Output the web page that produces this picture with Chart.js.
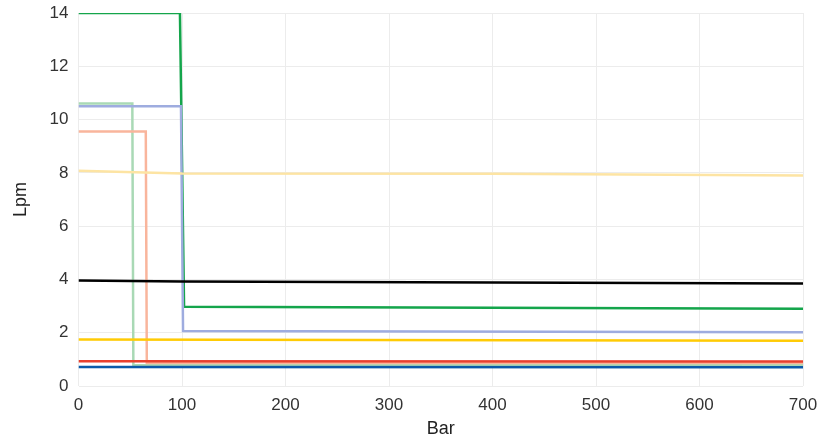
<!DOCTYPE html>
<html>
<head>
<meta charset="utf-8">
<script src="https://cdn.jsdelivr.net/npm/chart.js@4/dist/chart.umd.min.js"></script>
<style>
  html, body { margin: 0; padding: 0; background: #fff; }
  #wrap { width: 817px; height: 438px; }
</style>
</head>
<body>
<div id="wrap"><canvas id="flowChart"></canvas></div>
<script>
// Values (x = Bar, y = Lpm)
const greenX = [0, 98, 102, 700];
const greenY = [14, 14, 2.97, 2.9];
const lavenderX = [0, 99, 101, 700];
const lavenderY = [10.5, 10.5, 2.06, 2.02];
const mintX = [0, 52, 53, 700];
const mintY = [10.6, 10.6, 0.78, 0.78];
const salmonX = [0, 65, 66, 700];
const salmonY = [9.55, 9.55, 0.86, 0.86];
const paleYellowX = [0, 100, 400, 700];
const paleYellowY = [8.08, 7.98, 7.97, 7.9];
const blackX = [0, 100, 700];
const blackY = [3.96, 3.92, 3.85];
const yellowX = [0, 700];
const yellowY = [1.75, 1.7];
const redX = [0, 700];
const redY = [0.93, 0.92];
const blueX = [0, 700];
const blueY = [0.71, 0.7];

const xTicks = [0, 100, 200, 300, 400, 500, 600, 700];
const yTicks = [0, 2, 4, 6, 8, 10, 12, 14];

function pts(xs, ys) {
    return xs.map((x, i) => ({ x: x, y: ys[i] }));
}

function series(label, xs, ys, color) {
    return {
        label: label,
        data: pts(xs, ys),
        borderColor: color,
        backgroundColor: color,
        borderWidth: 2.5,
        pointRadius: 0,
        fill: false,
        tension: 0
    };
}

const ctx = document.getElementById('flowChart').getContext('2d');
const flowChart = new Chart(ctx, {
    type: 'line',
    data: {
        datasets: [
            series('Blue', blueX, blueY, '#0b5aa9'),
            series('Red', redX, redY, '#e8402e'),
            series('Yellow', yellowX, yellowY, '#ffcb05'),
            series('Black', blackX, blackY, '#000000'),
            series('Pale yellow', paleYellowX, paleYellowY, '#fde4a3'),
            series('Salmon', salmonX, salmonY, '#f9b59c'),
            series('Lavender', lavenderX, lavenderY, '#9eacdf'),
            series('Green', greenX, greenY, '#14a54b'),
            series('Mint', mintX, mintY, '#a9d9b5')
        ]
    },
    options: {
        responsive: true,
        maintainAspectRatio: false,
        animation: false,
        layout: { padding: { top: 13, right: 0, left: 10, bottom: 0 } },
        plugins: {
            legend: { display: false },
            tooltip: { enabled: false }
        },
        scales: {
            x: {
                type: 'linear',
                min: 0,
                max: 700,
                afterBuildTicks: (scale) => { scale.ticks = xTicks.map(v => ({ value: v })); },
                afterFit: (scale) => { scale.paddingRight = 14; },
                grid: { color: '#ececec', lineWidth: 1, drawTicks: false },
                border: { display: false },
                ticks: { color: '#333', padding: 9, font: { family: 'Liberation Sans', size: 17 } },
                title: {
                    display: true,
                    text: 'Bar',
                    color: '#222',
                    padding: { top: -6, bottom: -2 },
                    font: { family: 'Liberation Sans', size: 18 }
                }
            },
            y: {
                min: 0,
                max: 14,
                afterBuildTicks: (scale) => { scale.ticks = yTicks.map(v => ({ value: v })); },
                afterFit: (scale) => { scale.paddingTop = 0; scale.paddingBottom = 0; },
                grid: { color: '#ececec', lineWidth: 1, drawTicks: false },
                border: { display: false },
                ticks: { color: '#333', padding: 10, font: { family: 'Liberation Sans', size: 17 } },
                title: {
                    display: true,
                    text: 'Lpm',
                    color: '#222',
                    padding: { top: 0, bottom: 8 },
                    font: { family: 'Liberation Sans', size: 18 }
                }
            }
        }
    }
});
</script>
</body>
</html>
